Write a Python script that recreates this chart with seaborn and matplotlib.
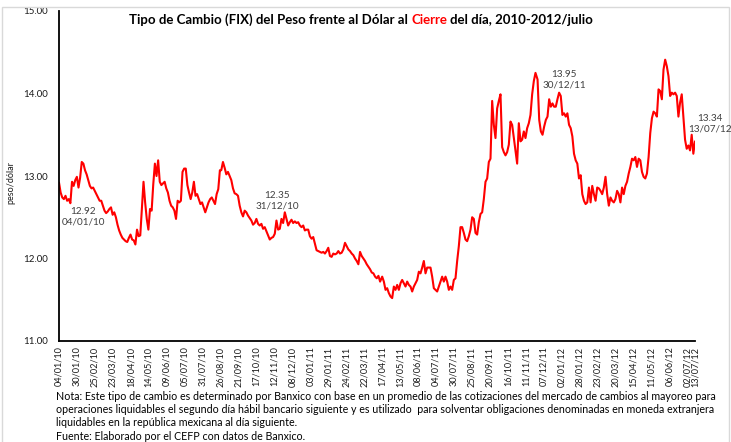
import numpy as np
import pandas as pd
import matplotlib
matplotlib.use("Agg")
import matplotlib.pyplot as plt
import seaborn as sns
from matplotlib.patches import Rectangle

# ---------------- data ----------------
tick_labels = ["04/01/10", "30/01/10", "25/02/10", "23/03/10", "18/04/10", "14/05/10",
               "09/06/10", "05/07/10", "31/07/10", "26/08/10", "21/09/10", "17/10/10",
               "12/11/10", "08/12/10", "03/01/11", "29/01/11", "24/02/11", "22/03/11",
               "17/04/11", "13/05/11", "08/06/11", "04/07/11", "30/07/11", "25/08/11",
               "20/09/11", "16/10/11", "11/11/11", "07/12/11", "02/01/12", "28/01/12",
               "23/02/12", "20/03/12", "15/04/12", "11/05/12", "06/06/12", "02/07/12",
               "13/07/12"]

period_1 = ("2010-01-04", "2010-08-25")
values_1 = [12.92, 12.80, 12.74, 12.72, 12.76, 12.70, 12.72, 12.67, 12.93, 12.88, 12.95, 12.99,
            12.86, 12.98, 13.17, 13.15, 13.07, 13.02, 12.95, 12.88, 12.85, 12.86, 12.82, 12.78,
            12.74, 12.70, 12.70, 12.64, 12.58, 12.55, 12.57, 12.60, 12.62, 12.53, 12.56, 12.50,
            12.41, 12.34, 12.29, 12.25, 12.23, 12.21, 12.20, 12.25, 12.29, 12.23, 12.22, 12.17,
            12.35, 12.27, 12.28, 12.60, 12.93, 12.68, 12.48, 12.35, 12.60, 12.58, 12.90, 13.15,
            13.00, 13.19, 12.93, 12.89, 12.91, 12.93, 12.85, 12.80, 12.70, 12.64, 12.62, 12.58,
            12.48, 12.70, 12.68, 12.70, 13.05, 13.09, 13.09, 12.89, 12.80, 12.72, 12.80, 12.93,
            12.76, 12.78, 12.72, 12.66, 12.68, 12.62, 12.56, 12.62, 12.68, 12.72, 12.74, 12.70,
            12.66, 12.78, 12.84, 13.07]

period_2 = ("2010-08-27", "2011-04-14")
values_2 = [13.07, 13.17, 13.10, 13.02, 13.05, 13.00, 12.95, 12.85, 12.79, 12.78, 12.76, 12.64,
            12.56, 12.51, 12.58, 12.56, 12.52, 12.49, 12.46, 12.41, 12.43, 12.48, 12.42, 12.40,
            12.42, 12.36, 12.38, 12.33, 12.28, 12.23, 12.25, 12.26, 12.30, 12.46, 12.35, 12.36,
            12.48, 12.43, 12.56, 12.48, 12.40, 12.44, 12.47, 12.43, 12.45, 12.43, 12.44, 12.40,
            12.38, 12.40, 12.34, 12.35, 12.35, 12.27, 12.24, 12.26, 12.18, 12.10, 12.09, 12.08,
            12.07, 12.08, 12.06, 12.09, 12.13, 12.03, 12.02, 12.06, 12.05, 12.06, 12.09, 12.06,
            12.07, 12.11, 12.19, 12.15, 12.11, 12.09, 12.06, 12.04, 12.00, 11.97, 11.93, 12.08,
            12.03, 12.00, 11.97, 11.93, 11.90, 11.87, 11.83, 11.82, 11.78, 11.76, 11.79, 11.72]

period_3 = ("2011-04-17", "2011-11-25")
values_3 = [11.78, 11.72, 11.62, 11.64, 11.58, 11.54, 11.52, 11.66, 11.62, 11.68, 11.62, 11.70,
            11.74, 11.70, 11.66, 11.72, 11.68, 11.66, 11.60, 11.66, 11.70, 11.74, 11.84, 11.82,
            11.89, 11.97, 11.82, 11.89, 11.89, 11.89, 11.78, 11.64, 11.62, 11.60, 11.66, 11.72,
            11.78, 11.72, 11.78, 11.72, 11.62, 11.66, 11.62, 11.74, 11.76, 11.97, 12.15, 12.38,
            12.38, 12.31, 12.23, 12.21, 12.27, 12.35, 12.50, 12.48, 12.31, 12.29, 12.44, 12.54,
            12.56, 12.72, 12.93, 12.97, 13.17, 13.21, 13.91, 13.62, 13.46, 13.82, 13.91, 13.99,
            13.35, 13.29, 13.25, 13.29, 13.38, 13.66, 13.62, 13.46, 13.29, 13.15, 13.64, 13.42,
            13.44, 13.54, 13.46, 13.58, 13.64, 13.74, 13.99, 14.15, 14.25]

period_4 = ("2011-11-28", "2012-07-13")
values_4 = [14.17, 13.68, 13.54, 13.50, 13.60, 13.68, 13.72, 13.93, 13.84, 13.88, 13.84, 13.84,
            13.93, 14.01, 13.97, 13.74, 13.76, 13.72, 13.76, 13.62, 13.58, 13.48, 13.27, 13.19,
            13.15, 12.97, 13.01, 12.78, 12.70, 12.66, 12.68, 12.86, 12.68, 12.88, 12.78, 12.70,
            12.86, 12.85, 12.82, 12.78, 12.86, 12.99, 12.78, 12.64, 12.74, 12.70, 12.68, 12.72,
            12.82, 12.78, 12.68, 12.86, 12.78, 12.88, 12.93, 13.03, 13.11, 13.21, 13.19, 13.23,
            13.11, 13.21, 13.19, 13.05, 12.99, 12.97, 13.03, 13.23, 13.52, 13.70, 13.78, 13.76,
            13.72, 14.05, 14.03, 13.93, 14.29, 14.41, 14.33, 14.21, 13.97, 14.01, 13.99, 14.01,
            13.97, 13.72, 13.89, 13.99, 13.72, 13.44, 13.33, 13.37, 13.31, 13.50, 13.27, 13.42]

annotations = [("12.92", "04/01/10"), ("12.35", "31/12/10"),
               ("13.95", "30/12/11"), ("13.34", "13/07/12")]

title_parts = ["Tipo de Cambio (FIX) del Peso frente al Dólar al ", "Cierre", " del día, 2010-2012/julio"]
footnote = ["Nota: Este tipo de cambio es determinado por Banxico con base en un promedio de las cotizaciones del mercado de cambios al mayoreo para",
            "operaciones liquidables el segundo día hábil bancario siguiente y es utilizado  para solventar obligaciones denominadas en moneda extranjera",
            "liquidables en la república mexicana al día siguiente.",
            "Fuente: Elaborado por el CEFP con datos de Banxico."]

# ---------------- build frame ----------------
frames = []
for (start, end), vals in [(period_1, values_1), (period_2, values_2),
                           (period_3, values_3), (period_4, values_4)]:
    frames.append(pd.DataFrame({"fecha": pd.date_range(start, end, periods=len(vals)),
                                "tipo_cambio": vals}))
df = pd.concat(frames, ignore_index=True)
tick_dates = pd.to_datetime(tick_labels, format="%d/%m/%y")

# ---------------- style ----------------
sns.set_style("white")
FONT = ["Lato", "DejaVu Sans"]
plt.rcParams["font.family"] = FONT

W, H = 731, 442
fig = plt.figure(figsize=(W / 100, H / 100), dpi=100)
fig.patch.set_facecolor("white")
ax = fig.add_axes([59 / W, 1 - 341 / H, 636 / W, 330 / H])

sns.lineplot(data=df, x="fecha", y="tipo_cambio", color="#FF0000", linewidth=1.5,
             estimator=None, ax=ax, legend=False)

ax.set_xlim(tick_dates[0], tick_dates[-1])
ax.set_ylim(11, 15)
ax.set_yticks([11, 12, 13, 14, 15])
ax.set_yticklabels([f"{v:.2f}" for v in [11, 12, 13, 14, 15]], fontsize=7, color="#1a1a1a")
ax.set_xticks(tick_dates)
ax.set_xticklabels(tick_labels, rotation=90, fontsize=6.6, color="#1a1a1a")
ax.set_xlabel("")
ax.set_ylabel("peso/dólar", fontsize=6.5, color="#1a1a1a")
ax.yaxis.set_label_coords(-0.068, 0.48)

for s in ["top", "right"]:
    ax.spines[s].set_visible(False)
for s in ["left", "bottom"]:
    ax.spines[s].set_color("black")
    ax.spines[s].set_linewidth(1.3)
ax.tick_params(axis="x", direction="inout", length=6, width=1, pad=1, colors="black",
               labelcolor="#1a1a1a")
ax.tick_params(axis="y", direction="out", length=4, width=1, pad=4, colors="black",
               labelcolor="#1a1a1a")
ax.xaxis.get_major_ticks()[-1].tick1line.set_visible(False)
ax.grid(False)

# ---------------- texts ----------------
fig.canvas.draw()
renderer = fig.canvas.get_renderer()


def text_width(s, size, weight="normal"):
    t = fig.text(0, 0, s, fontsize=size, fontweight=weight)
    w = t.get_window_extent(renderer).width
    t.remove()
    return w


# title, fitted to the reference width
full_title = "".join(title_parts)
tsize = 8.0 * 468 / text_width(full_title, 8.0, "bold")
left = 129
ty = 1 - 20 / H
x2 = left + text_width(title_parts[0] + title_parts[1], tsize, "bold") - text_width(title_parts[1], tsize, "bold")
x3 = left + text_width(full_title, tsize, "bold") - text_width(title_parts[2].strip(), tsize, "bold")
fig.text(left / W, ty, title_parts[0].rstrip(), fontsize=tsize, fontweight="bold", color="black", va="center")
fig.text(x2 / W, ty, title_parts[1], fontsize=tsize, fontweight="bold", color="#FF0000", va="center")
fig.text(x3 / W, ty, title_parts[2].strip(), fontsize=tsize, fontweight="bold", color="black", va="center")

# point annotations
ann_pos = [(83, 217), (277, 201), (564, 80), (710, 124)]
for (val, date), (px, py) in zip(annotations, ann_pos):
    fig.text(px / W, 1 - py / H, f"{val}\n{date}", fontsize=7.2, color="#404040",
             ha="center", va="center", linespacing=1.25)

# footnote
fsize = 7.3 * 660 / text_width(footnote[0], 7.3)
for line, py in zip(footnote, [396, 409.5, 423, 436]):
    fig.text(56 / W, 1 - py / H, line, fontsize=fsize, color="black", va="center")

# chart frame
fig.patches.append(Rectangle((2 / W, -0.02), 727 / W, 1 - 7 / H + 0.02, transform=fig.transFigure,
                             fill=False, edgecolor="#D9D9D9", linewidth=1))

fig.savefig("out.png", dpi=100)
